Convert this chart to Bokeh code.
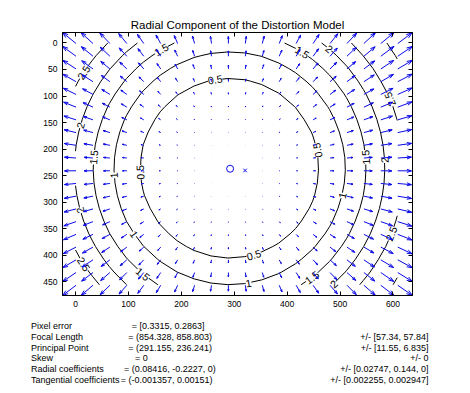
import numpy as np
from bokeh.plotting import figure
from bokeh.layouts import column
from bokeh.models import Range1d, LinearAxis, FixedTicker, ColumnDataSource, Div
from bokeh.embed import file_html
from bokeh.resources import INLINE
from bokeh.core.properties import value

# ---------------- calibration results (printed under the chart) ----------------
image_size = [640, 480]
pixel_error = [0.3315, 0.2863]
focal_length = [854.328, 858.803]
focal_err = [57.34, 57.84]
principal_point = [291.155, 236.241]
principal_err = [11.55, 6.835]
skew = 0
skew_err = 0
radial_coeffs = [0.08416, -0.2227, 0]
radial_err = [0.02747, 0.144, 0]
tangential_coeffs = [-0.001357, 0.00151]
tangential_err = [0.002255, 0.002947]

contour_levels = [0.5, 1, 1.5, 2, 2.5, 3]
# contour labels: level and direction (deg, image coords, y down) from the principal point
label_levels = [0.5, 1.5, 1.5, 2, 3, 2.5, 2.5, 2, 1.5, 1, 0.5, 0.5, 1.5, 2, 1, 2, 1, 2.5,
                0.5, 2.5, 1.5, 1, 1.5, 2]
label_dirs = [-99.3, -120, -57.9, -50.1, -33.4, -23.2, -146.8, -164, -175.4, 176.5, 177.4,
              -11.5, -4.6, -3, 13.6, 164.3, 145.4, 22, 74.3, 146.7, 129.4, 80.6, 52.9, 47.9]

x_ticks = [0, 100, 200, 300, 400, 500, 600]
y_ticks = [0, 50, 100, 150, 200, 250, 300, 350, 400, 450]

title_text = "Radial Component of the Distortion Model"

# ---------------- radial distortion model ----------------
fc = np.array(focal_length)
cc = np.array(principal_point)
k1, k2, k3 = radial_coeffs


def displacement(px, py):
    xn = (px - cc[0]) / fc[0]
    yn = (py - cc[1]) / fc[1]
    r2 = xn ** 2 + yn ** 2
    rad = 1 + k1 * r2 + k2 * r2 ** 2 + k3 * r2 ** 3
    return fc[0] * xn * rad + cc[0] - px, fc[1] * yn * rad + cc[1] - py


nx, ny = image_size
mx = np.arange(0, nx, nx / 20)
my = np.arange(0, ny, ny / 20)
MX, MY = np.meshgrid(mx, my)
DX, DY = displacement(MX, MY)
DR = np.sqrt(DX ** 2 + DY ** 2)

# quiver (MATLAB style autoscale)
X = (MX + 1).ravel()
Y = (MY + 1).ravel()
U = DX.ravel()
V = DY.ravel()
n = np.sqrt(X.size)
delx = (X.max() - X.min()) / n
dely = (Y.max() - Y.min()) / n
dl = delx ** 2 + dely ** 2
scale = 0.9 / np.sqrt((U ** 2 + V ** 2) / dl).max()
U = U * scale
V = V * scale
alpha, beta = 0.33, 0.33
hx = [[x + u - alpha * (u + beta * v), x + u, x + u - alpha * (u - beta * v)] for x, u, v in zip(X, U, V)]
hy = [[y + v - alpha * (v - beta * u), y + v, y + v - alpha * (v + beta * u)] for y, u, v in zip(Y, U, V)]

allx = np.concatenate([X, X + U, np.array(hx).ravel()])
ally = np.concatenate([Y, Y + V, np.array(hy).ravel()])
x0, x1 = allx.min(), allx.max()
y0, y1 = ally.min(), ally.max()

# ---------------- figure ----------------
W = 462
BL, BR, BT, BB = 62, 50, 32, 22
FW, FH = 350, 263
H = BT + FH + BB

p = figure(width=W, height=H, output_backend="svg", toolbar_location=None,
           x_range=Range1d(x0, x1), y_range=Range1d(y1, y0),
           min_border_left=BL, min_border_right=BR, min_border_top=BT, min_border_bottom=BB,
           background_fill_color="white", border_fill_color="white")
p.grid.visible = False
p.outline_line_color = "black"
p.outline_line_alpha = 1

p.title.text = title_text
p.title.align = "center"
p.title.text_font = "Liberation Sans"
p.title.text_font_size = "11.5px"
p.title.text_font_style = "normal"
p.title.text_color = "black"
p.title.standoff = 3

p.add_layout(LinearAxis(), "right")
p.add_layout(LinearAxis(), "above")
for ax in p.xaxis:
    ax.ticker = FixedTicker(ticks=x_ticks)
for ax in p.yaxis:
    ax.ticker = FixedTicker(ticks=y_ticks)
for ax in p.axis:
    ax.major_tick_in = 4
    ax.major_tick_out = 0
    ax.minor_tick_line_color = None
    ax.axis_line_color = "black"
    ax.major_tick_line_color = "black"
    ax.major_label_text_font = "Liberation Sans"
    ax.major_label_text_font_size = "8.5px"
    ax.major_label_text_color = "black"
    ax.major_label_standoff = 5
for ax in (p.right[0], p.above[0]):
    ax.major_label_text_color = None
    ax.major_label_standoff = 0

# contours
p.contour(mx, my, DR, levels=contour_levels, line_color="black", line_width=1)


# contour labels placed on the level curves
def mag(x, y):
    dx, dy = displacement(x, y)
    return np.hypot(dx, dy)


lx, ly, lt, la = [], [], [], []
for lev, deg in zip(label_levels, label_dirs):
    th = np.radians(deg)
    c, s = np.cos(th), np.sin(th)
    lo, hi = 0.0, 700.0
    for _ in range(60):
        mid = 0.5 * (lo + hi)
        if mag(cc[0] + mid * c, cc[1] + mid * s) < lev:
            lo = mid
        else:
            hi = mid
    lx.append(cc[0] + lo * c)
    ly.append(cc[1] + lo * s)
    lt.append("%g" % lev)
    ang = np.arctan2(-np.cos(th), -np.sin(th))
    while ang > np.pi / 2:
        ang -= np.pi
    while ang <= -np.pi / 2:
        ang += np.pi
    if ang < -np.radians(60):
        ang += np.pi
    la.append(ang)

src = ColumnDataSource(dict(x=lx, y=ly, text=lt, angle=la))
p.text(x="x", y="y", text="text", angle="angle", source=src,
       text_font=value("Liberation Sans"), text_font_size="10.5px",
       text_align="center", text_baseline="middle", text_color="black",
       background_fill_color="white")

# quiver
p.segment(x0=X, y0=Y, x1=X + U, y1=Y + V, line_color="#0a0ae6", line_width=1)
p.multi_line(xs=hx, ys=hy, line_color="#0a0ae6", line_width=1)

# principal point and image centre
p.scatter([cc[0] + 1], [cc[1] + 1], marker="circle", size=7, fill_color=None,
          line_color="#0a0ae6", line_width=1)
p.scatter([(nx - 1) / 2 + 1], [(ny - 1) / 2 + 1], marker="x", size=5,
          line_color="#0a0ae6", line_width=1)

# ---------------- calibration text below the plot ----------------
rows_name = ["Pixel error", "Focal Length", "Principal Point", "Skew",
             "Radial coefficients", "Tangential coefficients"]
rows_val = ["= [%s, %s]" % tuple(pixel_error),
            "= (%s, %s)" % tuple(focal_length),
            "= (%s, %s)" % tuple(principal_point),
            "= %s" % skew,
            "= (%s, %s, %s)" % tuple(radial_coeffs),
            "= (%s, %s)" % tuple(tangential_coeffs)]
rows_err = ["",
            "+/- [%s, %s]" % tuple(focal_err),
            "+/- [%s, %s]" % tuple(principal_err),
            "+/- %s" % skew_err,
            "+/- [%s, %s, %s]" % tuple(radial_err),
            "+/- [%s, %s]" % tuple(tangential_err)]
val_x = [131.7, 128.3, 128.3, 135, 124, 120.7]

H2 = 393 - H
spans = []
for i in range(6):
    top = 326.7 - H + i * 10.75 - 5.5
    base = "position:absolute;top:%.1fpx;white-space:nowrap;line-height:11px;" % top
    spans.append('<span style="%sleft:31px;">%s</span>' % (base, rows_name[i]))
    spans.append('<span style="%sleft:%.1fpx;">%s</span>' % (base, val_x[i], rows_val[i]))
    if rows_err[i]:
        spans.append('<span style="%sright:%.1fpx;">%s</span>' % (base, W - 428.5, rows_err[i]))
html = ('<div style="position:relative;width:%dpx;height:%dpx;font-family:\'Liberation Sans\';'
        'font-size:9px;color:#000;margin:0;padding:0;">%s</div>' % (W, H2, "".join(spans)))
info = Div(text=html, width=W, height=H2, margin=(0, 0, 0, 0))

layout = column(p, info, spacing=0)
open("out.html", "w").write(file_html(layout, INLINE))
